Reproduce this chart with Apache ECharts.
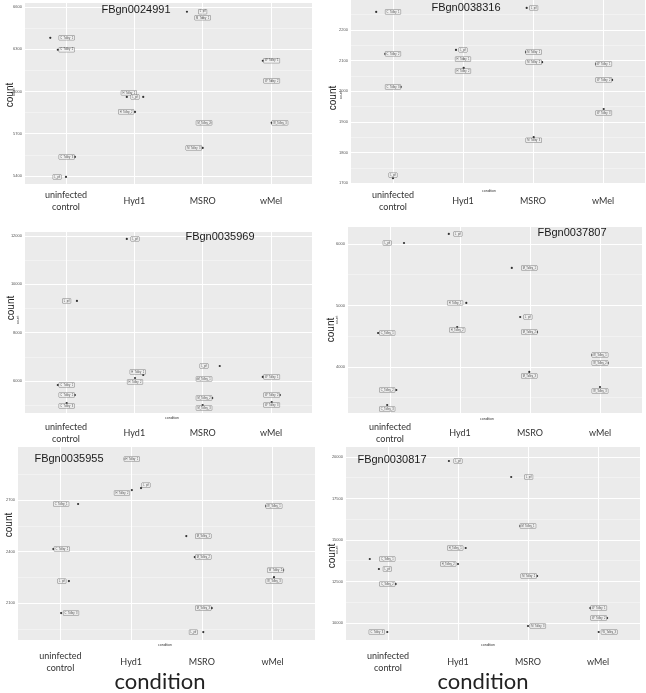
<!DOCTYPE html>
<html>
<head>
<meta charset="utf-8">
<script src="https://cdn.jsdelivr.net/npm/echarts@6/dist/echarts.min.js"></script>
<style>html,body{margin:0;padding:0;background:#fff}#c{width:646px;height:693px}</style>
</head>
<body>
<div id="c"></div>
<script>
const categories = ['uninfected\ncontrol', 'Hyd1', 'MSRO', 'wMel'];
const genes = ['FBgn0024991', 'FBgn0038316', 'FBgn0035969', 'FBgn0037807', 'FBgn0035955', 'FBgn0030817'];

// rows: [sample label, jittered x (category units), count, label x, label y]
const fbgn0024991 = [
  ['C_Tolley_1', 0.77, 6381, 1.01, 6381], ['C_Tolley_2', 0.88, 6296, 1.01, 6296],
  ['C_Tolley_3', 1.13, 5535, 1.01, 5535], ['L_pif', 1.00, 5393, 0.87, 5393],
  ['H_Tolley_1', 1.89, 5961, 1.92, 5990], ['L_pif', 2.13, 5961, 2.01, 5961],
  ['H_Tolley_2', 2.01, 5855, 1.88, 5855],
  ['L_pif', 2.77, 6566, 3.00, 6566], ['M_Tolley_1', 3.00, 6523, 3.00, 6523],
  ['M_Tolley_2', 3.12, 5777, 3.02, 5777], ['M_Tolley_3', 3.00, 5599, 2.87, 5599],
  ['W_Tolley_1', 3.88, 6218, 4.01, 6218], ['W_Tolley_2', 4.01, 6075, 4.01, 6075],
  ['W_Tolley_3', 4.01, 5777, 4.13, 5777]
];
const fbgn0038316 = [
  ['C_Tolley_1', 0.76, 2259, 1.00, 2259], ['C_Tolley_2', 0.89, 2122, 1.00, 2122],
  ['C_Tolley_3', 1.11, 2014, 1.00, 2014], ['L_pif', 1.00, 1716, 1.00, 1726],
  ['L_pif', 1.90, 2135, 2.00, 2135], ['H_Tolley_1', 2.01, 2105, 2.00, 2105],
  ['H_Tolley_2', 2.01, 2076, 2.00, 2066],
  ['L_pif', 2.91, 2272, 3.01, 2272], ['M_Tolley_1', 2.90, 2128, 3.01, 2128],
  ['M_Tolley_2', 3.13, 2095, 3.01, 2095], ['M_Tolley_3', 3.01, 1850, 3.01, 1840],
  ['W_Tolley_1', 3.90, 2089, 4.01, 2089], ['W_Tolley_2', 4.13, 2037, 4.01, 2037],
  ['W_Tolley_3', 4.01, 1942, 4.01, 1929]
];
const fbgn0035969 = [
  ['L_pif', 1.16, 9313, 1.01, 9313], ['C_Tolley_1', 0.88, 5834, 1.01, 5834],
  ['C_Tolley_2', 1.13, 5420, 1.01, 5420], ['C_Tolley_3', 1.01, 5089, 1.01, 4965],
  ['L_pif', 1.89, 11880, 2.01, 11880], ['H_Tolley_1', 2.13, 6248, 2.05, 6373],
  ['H_Tolley_2', 2.01, 6124, 2.01, 5959],
  ['L_pif', 3.25, 6621, 3.02, 6621], ['M_Tolley_1', 2.92, 6083, 3.02, 6083],
  ['M_Tolley_2', 3.14, 5296, 3.02, 5296], ['M_Tolley_3', 3.00, 5006, 3.02, 4882],
  ['W_Tolley_1', 3.88, 6166, 4.01, 6166], ['W_Tolley_2', 4.13, 5420, 4.01, 5420],
  ['W_Tolley_3', 4.01, 5130, 4.01, 5006]
];
const fbgn0037807 = [
  ['L_pif', 1.20, 6016, 0.96, 6016], ['C_Tolley_1', 0.83, 4553, 0.96, 4553],
  ['C_Tolley_2', 1.09, 3626, 0.96, 3626], ['C_Tolley_3', 0.96, 3382, 0.96, 3317],
  ['L_pif', 1.84, 6163, 1.97, 6163], ['H_Tolley_1', 2.09, 5041, 1.93, 5041],
  ['H_Tolley_2', 1.96, 4650, 1.96, 4602],
  ['M_Tolley_1', 2.74, 5610, 2.99, 5610], ['L_pif', 2.86, 4813, 2.97, 4813],
  ['M_Tolley_2', 3.10, 4569, 2.99, 4569], ['M_Tolley_3', 2.99, 3919, 2.99, 3854],
  ['W_Tolley_1', 3.89, 4195, 4.00, 4195], ['W_Tolley_2', 4.11, 4065, 4.00, 4065],
  ['W_Tolley_3', 4.00, 3675, 4.00, 3610]
];
const fbgn0035955 = [
  ['C_Tolley_1', 1.25, 2677, 1.01, 2677], ['C_Tolley_2', 0.90, 2415, 1.02, 2415],
  ['L_pif', 1.12, 2228, 1.02, 2228], ['C_Tolley_3', 1.01, 2042, 1.15, 2042],
  ['H_Tolley_1', 1.91, 2939, 2.01, 2939], ['L_pif', 2.14, 2770, 2.21, 2787],
  ['H_Tolley_2', 2.01, 2758, 1.87, 2741],
  ['M_Tolley_1', 2.78, 2490, 3.02, 2490], ['M_Tolley_2', 2.90, 2368, 3.02, 2368],
  ['M_Tolley_3', 3.14, 2071, 3.02, 2071], ['L_pif', 3.02, 1931, 2.88, 1931],
  ['W_Tolley_1', 3.91, 2665, 4.02, 2665], ['W_Tolley_2', 4.15, 2292, 4.04, 2292],
  ['W_Tolley_3', 4.02, 2251, 4.02, 2228]
];
const fbgn0030817 = [
  ['C_Tolley_1', 0.74, 13855, 0.99, 13855], ['L_pif', 0.87, 13253, 0.99, 13253],
  ['C_Tolley_2', 1.11, 12349, 0.99, 12349], ['C_Tolley_3', 0.99, 9458, 0.84, 9458],
  ['L_pif', 1.87, 19759, 2.00, 19759], ['H_Tolley_1', 2.11, 14518, 1.96, 14518],
  ['H_Tolley_2', 2.00, 13554, 1.86, 13554],
  ['L_pif', 2.76, 18795, 3.01, 18795], ['M_Tolley_1', 2.89, 15843, 3.00, 15843],
  ['M_Tolley_2', 3.13, 12831, 3.01, 12831], ['M_Tolley_3', 3.00, 9819, 3.14, 9819],
  ['W_Tolley_1', 3.89, 10904, 4.01, 10904], ['W_Tolley_2', 4.13, 10301, 4.01, 10301],
  ['W_Tolley_3', 4.01, 9458, 4.16, 9458]
];

const ticks1 = [5400, 5700, 6000, 6300, 6600];
const ticks2 = [1700, 1800, 1900, 2000, 2100, 2200];
const ticks3 = [6000, 8000, 10000, 12000];
const ticks4 = [4000, 5000, 6000];
const ticks5 = [2100, 2400, 2700];
const ticks6 = [10000, 12500, 15000, 17500, 20000];

const panels = [
  {rows: fbgn0024991, ticks: ticks1, min: 5343, max: 6628, left: 25, top: 3, width: 287, height: 181, margin: 17,
   title: [136, 10], count: [10, 95], small: [14, 92], cond: null},
  {rows: fbgn0038316, ticks: ticks2, min: 1697, max: 2298, left: 351, top: 0, width: 294, height: 184, margin: 17,
   title: [466, 8], count: [333, 98], small: [341, 95], cond: [489, 191]},
  {rows: fbgn0035969, ticks: ticks3, min: 4675, max: 12166, left: 25, top: 232, width: 287, height: 181, margin: 20,
   title: [220, 237], count: [11, 308], small: [18, 320], cond: [172, 418]},
  {rows: fbgn0037807, ticks: ticks4, min: 3252, max: 6276, left: 348, top: 227, width: 294, height: 186, margin: 20,
   title: [572, 233], count: [331, 330], small: [337, 320], cond: [487, 419]},
  {rows: fbgn0035955, ticks: ticks5, min: 1885, max: 3009, left: 18, top: 447, width: 297, height: 193, margin: 22,
   title: [69, 459], count: [9, 525], small: null, cond: [165, 645]},
  {rows: fbgn0030817, ticks: ticks6, min: 8976, max: 20602, left: 346, top: 447, width: 294, height: 193, margin: 22,
   title: [392, 460], count: [332, 556], small: [337, 550], cond: [488, 645]}
];

const FONT = "'Liberation Sans', Arial, sans-serif";
const grid = [], xAxis = [], yAxis = [], series = [], graphic = [];

panels.forEach((p, i) => {
  grid.push({left: p.left, top: p.top, width: p.width, height: p.height, show: true,
    backgroundColor: '#ebebeb', borderWidth: 0, containLabel: false});
  xAxis.push({type: 'value', gridIndex: i, min: 0.4, max: 4.6,
    axisLine: {show: false},
    axisTick: {show: false, customValues: [1, 2, 3, 4]},
    axisLabel: {show: true, customValues: [1, 2, 3, 4], formatter: v => categories[Math.round(v) - 1] || '',
      fontFamily: 'Lato, ' + FONT, fontSize: 9, color: '#333', lineHeight: 12, verticalAlign: 'middle', margin: p.margin},
    splitLine: {show: true, lineStyle: {color: '#ffffff', width: 1}}
  });
  const step = p.ticks[1] - p.ticks[0];
  const minor = [];
  for (let k = 0; k < p.ticks.length; k++) {
    const a = p.ticks[k] - step / 2;
    if (a >= p.min) minor.push(a);
  }
  const last = p.ticks[p.ticks.length - 1] + step / 2;
  if (last <= p.max) minor.push(last);
  yAxis.push({type: 'value', gridIndex: i, min: p.min, max: p.max,
    axisLine: {show: false},
    axisTick: {show: false, customValues: p.ticks},
    axisLabel: {show: true, customValues: p.ticks, formatter: v => String(v), fontSize: 4, color: '#555', margin: 3, fontFamily: FONT},
    splitLine: {show: true, lineStyle: {color: '#ffffff', width: 1}}
  });
  yAxis.push({type: 'value', gridIndex: i, min: p.min, max: p.max,
    axisLine: {show: false},
    axisTick: {show: false, customValues: minor},
    axisLabel: {show: false},
    splitLine: {show: true, lineStyle: {color: '#f6f6f6', width: 0.6}}
  });
  series.push({type: 'scatter', xAxisIndex: i, yAxisIndex: 2 * i, symbolSize: 2.2, silent: true,
    itemStyle: {color: '#000'}, z: 3,
    data: p.rows.map(r => [r[1], r[2]])});
  series.push({type: 'scatter', xAxisIndex: i, yAxisIndex: 2 * i, symbolSize: 0.1, silent: true,
    itemStyle: {color: 'rgba(0,0,0,0)'}, z: 4,
    label: {show: true, position: 'inside', formatter: '{b}', fontSize: 2.6, color: '#222', fontFamily: FONT,
      backgroundColor: '#f2f2f2', borderColor: '#555', borderWidth: 0.4, padding: [0.6, 1.2]},
    data: p.rows.map(r => ({name: r[0], value: [r[3], r[4]]}))});

  graphic.push({type: 'text', x: p.title[0], y: p.title[1], z: 10,
    style: {text: genes[i], fontSize: 11, fontFamily: FONT, fill: '#1a1a1a', textAlign: 'center', textVerticalAlign: 'middle'}});
  graphic.push({type: 'text', x: p.count[0], y: p.count[1], rotation: Math.PI / 2, z: 10,
    style: {text: 'count', fontSize: 10, fontFamily: FONT, fill: '#222', textAlign: 'center', textVerticalAlign: 'middle'}});
  if (p.small) graphic.push({type: 'text', x: p.small[0], y: p.small[1], rotation: Math.PI / 2, z: 10,
    style: {text: 'count', fontSize: 3.5, fontFamily: FONT, fill: '#333', textAlign: 'center', textVerticalAlign: 'middle'}});
  if (p.cond) graphic.push({type: 'text', x: p.cond[0], y: p.cond[1], z: 10,
    style: {text: 'condition', fontSize: 3.5, fontFamily: FONT, fill: '#333', textAlign: 'center', textVerticalAlign: 'middle'}});
});

graphic.push({type: 'text', x: 160, y: 682, style: {text: 'condition', fontSize: 22, fontFamily: 'Lato, ' + FONT, fill: '#222', textAlign: 'center', textVerticalAlign: 'middle'}});
graphic.push({type: 'text', x: 483, y: 682, style: {text: 'condition', fontSize: 22, fontFamily: 'Lato, ' + FONT, fill: '#222', textAlign: 'center', textVerticalAlign: 'middle'}});

const chart = echarts.init(document.getElementById('c'), null, {renderer: 'canvas'});
chart.setOption({animation: false, backgroundColor: '#ffffff', grid, xAxis, yAxis, series, graphic});
</script>
</body>
</html>
